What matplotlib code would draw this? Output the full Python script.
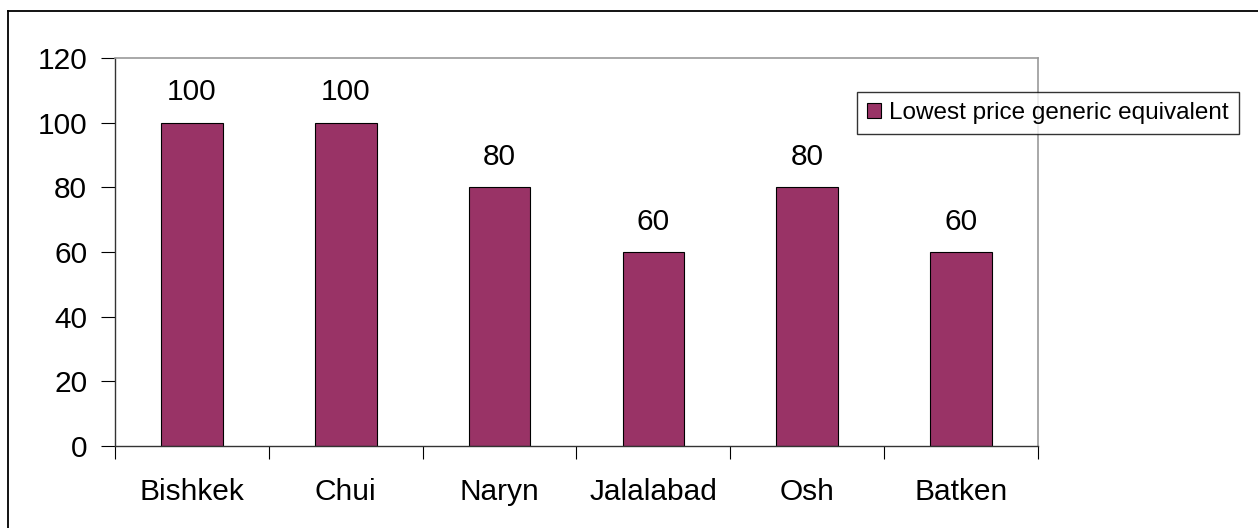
import matplotlib
matplotlib.use('Agg')
import matplotlib.pyplot as plt
from matplotlib.lines import Line2D

plt.rcParams['font.family'] = ['Liberation Sans', 'DejaVu Sans']

regions = ['Bishkek', 'Chui', 'Naryn', 'Jalalabad', 'Osh', 'Batken']
availability = [100, 100, 80, 60, 80, 60]
series_name = 'Lowest price generic equivalent'
yticks = [0, 20, 40, 60, 80, 100, 120]

W, H = 1258, 528
fig = plt.figure(figsize=(W / 100, H / 100), dpi=100)

# outer frame of the figure box: only top and left edges are on the page
fig.add_artist(Line2D([8 / W, 1.0], [1 - 11 / H, 1 - 11 / H], transform=fig.transFigure,
                      color='black', linewidth=1.3))
fig.add_artist(Line2D([8 / W, 8 / W], [0.0, 1 - 11 / H], transform=fig.transFigure,
                      color='black', linewidth=1.3))

# plot area in pixels: left 115, right 1038, top 58, bottom 446
ax = fig.add_axes([115 / W, 1 - 446 / H, (1038 - 115) / W, (446 - 58) / H])

x = range(len(regions))
ax.bar(x, availability, width=0.4, color='#993366', edgecolor='black',
       linewidth=0.8, label=series_name, zorder=2)
for xi, v in zip(x, availability):
    ax.text(xi, v + 5, str(v), ha='center', va='bottom', fontsize=21.5)

ax.set_xlim(-0.5, len(regions) - 0.5)
ax.set_ylim(0, 120)
ax.set_yticks(yticks)
ax.tick_params(axis='y', labelsize=21.5, length=10, width=0.8, pad=10, direction='out')

# category labels in the middle, ticks at the boundaries
ax.set_xticks(list(x))
ax.set_xticklabels(regions, fontsize=21.5)
ax.tick_params(axis='x', which='major', length=0, pad=23)
ax.set_xticks([i - 0.5 for i in range(len(regions) + 1)], minor=True)
ax.tick_params(axis='x', which='minor', length=9, width=0.8, direction='out')

for side in ['top', 'right']:
    ax.spines[side].set_color('#999999')
    ax.spines[side].set_linewidth(1.2)
for side in ['left', 'bottom']:
    ax.spines[side].set_color('#333333')
    ax.spines[side].set_linewidth(1.0)

leg = ax.legend(loc='upper left', bbox_to_anchor=((857 - 115) / (1038 - 115), 1 - (92 - 58) / (446 - 58)),
                fontsize=17.5, frameon=True, fancybox=False, edgecolor='black',
                handlelength=0.55, handleheight=0.55, handletextpad=0.35,
                borderpad=0.42, borderaxespad=0)
leg.get_frame().set_linewidth(1.0)

fig.savefig('out.png', dpi=100)
